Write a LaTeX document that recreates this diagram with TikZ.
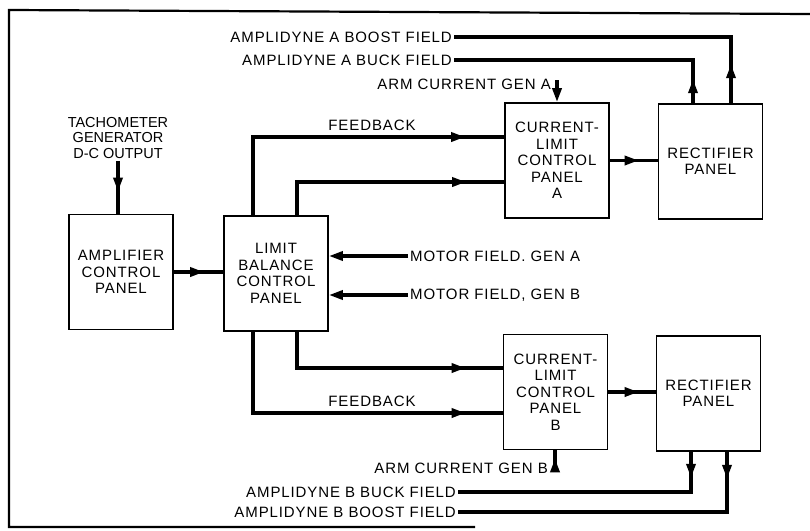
\documentclass[tikz,border=0pt]{standalone}
\usepackage{fontspec}
\setmainfont{Liberation Sans}[LetterSpace=6]
\usetikzlibrary{arrows.meta,decorations.markings}
\begin{document}
\begin{tikzpicture}[x=1pt,y=-1pt,
  box/.style={draw, line width=1.7pt, minimum width=104pt, minimum height=115pt, inner sep=0pt, align=center, font=\fontsize{15}{16.5}\selectfont},
  lab/.style={inner sep=2pt, font=\fontsize{15}{16}\selectfont},
  conn/.style={line width=3.3pt},
  tipA/.style={postaction={decorate}, decoration={markings, mark=at position #1 with {\arrow{Triangle[length=14pt,width=9pt]}}}},
  endtip/.style={-{Triangle[length=14pt,width=9pt]}}
]
\useasboundingbox (0,0) rectangle (810,530);
% frame
\draw[line width=2.2pt] (810,14) -- (9,10) -- (9,527) -- (475,527);
% boxes
\node[box] (amp) at (121,272) {AMPLIFIER\\CONTROL\\PANEL};
\node[box] (lim) at (276,273.5) {LIMIT\\BALANCE\\CONTROL\\PANEL};
\node[box] (clA) at (557,160.5) {CURRENT-\\LIMIT\\CONTROL\\PANEL\\A};
\node[box] (recA) at (710.5,161.5) {RECTIFIER\\PANEL};
\node[box] (clB) at (555.5,392) {CURRENT-\\LIMIT\\CONTROL\\PANEL\\B};
\node[box] (recB) at (708.5,393.5) {RECTIFIER\\PANEL};
% labels
\node[lab, anchor=east] (bAl) at (454,37) {AMPLIDYNE A BOOST FIELD};
\node[lab, anchor=east] (kAl) at (454,60) {AMPLIDYNE A BUCK FIELD};
\node[lab, anchor=east] (armAl) at (553,84) {ARM CURRENT GEN A};
\node[lab, align=center, font=\fontsize{14.5}{15.5}\selectfont\addfontfeature{LetterSpace=0}] (tach) at (118,138) {TACHOMETER\\GENERATOR\\D-C OUTPUT};
\node[lab] (fbAl) at (372,125) {FEEDBACK};
\node[lab, anchor=west] (mAl) at (408,256) {MOTOR FIELD. GEN A};
\node[lab, anchor=west] (mBl) at (408,295) {MOTOR FIELD, GEN B};
\node[lab] (fbBl) at (372,401) {FEEDBACK};
\node[lab, anchor=east] (armBl) at (550,468) {ARM CURRENT GEN B};
\node[lab, anchor=east] (kBl) at (458,492) {AMPLIDYNE B BUCK FIELD};
\node[lab, anchor=east] (bBl) at (458,512) {AMPLIDYNE B BOOST FIELD};
% coordinates
\coordinate (fbA) at (253,137);
\coordinate (sA) at (297,182);
\coordinate (sB) at (297,368);
\coordinate (fbB) at (253,413);
\coordinate (bAx) at (731,0);
\coordinate (kAx) at (693,0);
\coordinate (kBx) at (691,0);
\coordinate (bBx) at (727,0);
\coordinate (armAc) at (557,80);
\coordinate (armBc) at (555,472);
% connectors
\draw[conn, tipA=39pt] (recA.north -| bAx) |- (bAl.east);
\draw[conn, tipA=24pt] (recA.north -| kAx) |- (kAl.east);
\draw[conn, endtip] (armAc) -- (clA.north -| armAc);
\draw[conn, tipA=-22pt] (tach.south) -- (amp.north -| tach.south);
\draw[conn, tipA=-19pt] (amp.east) -- (amp.east -| lim.west);
\draw[conn, tipA=-39pt] (lim.north -| fbA) |- (clA.west |- fbA);
\draw[conn, tipA=-38pt] (lim.north -| sA) |- (clA.west |- sA);
\draw[conn, tipA=-19pt] (clA.east) -- (clA.east -| recA.west);
\draw[conn, endtip] (mAl.west) -- (lim.east |- mAl.west);
\draw[conn, endtip] (mBl.west) -- (lim.east |- mBl.west);
\draw[conn, tipA=-37pt] (lim.south -| sB) |- (clB.west |- sB);
\draw[conn, tipA=-37pt] (lim.south -| fbB) |- (clB.west |- fbB);
\draw[conn, tipA=-17pt] (clB.east) -- (clB.east -| recB.west);
\draw[conn, tipA=-8pt] (armBc) -- (clB.south -| armBc);
\draw[conn, tipA=26pt] (recB.south -| kBx) |- (kBl.east);
\draw[conn, tipA=27pt] (recB.south -| bBx) |- (bBl.east);
\end{tikzpicture}
\end{document}
